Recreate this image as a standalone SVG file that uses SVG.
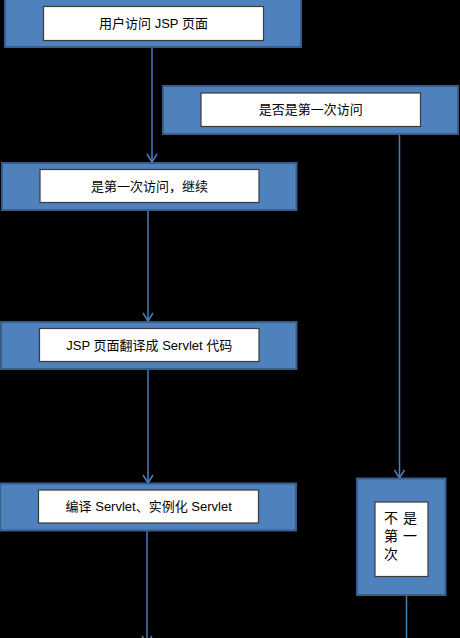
<svg xmlns="http://www.w3.org/2000/svg" width="460" height="638" viewBox="0 0 460 638">
<style>
.outer{fill:#4f81bd;stroke:#385d8a;stroke-width:2}
.inner{fill:#ffffff;stroke:#3a3a3a;stroke-width:1.2}
.t{font-family:"Liberation Sans","Noto Sans CJK SC",sans-serif;font-size:13px;fill:#000;text-anchor:middle;dominant-baseline:central}
.tv{font-family:"Liberation Sans","Noto Sans CJK SC",sans-serif;font-size:14px;fill:#000;letter-spacing:5px}
.c{fill:none;stroke:#4a7ebb;stroke-width:1.5}
</style>
<defs>
<marker id="arr" markerUnits="userSpaceOnUse" markerWidth="14" markerHeight="14" viewBox="-10 -7 12 14" refX="0" refY="0" orient="auto">
<polyline points="-8,-5 0,0 -8,5" fill="none" stroke="#4a7ebb" stroke-width="1.5"/>
</marker>
</defs>
<rect x="0" y="0" width="460" height="638" fill="#000"/>
<g id="connectors">
<line class="c" x1="152" y1="47" x2="152" y2="162" marker-end="url(#arr)"/>
<line class="c" x1="148" y1="210" x2="148" y2="321" marker-end="url(#arr)"/>
<line class="c" x1="148" y1="369" x2="148" y2="483" marker-end="url(#arr)"/>
<line class="c" x1="147" y1="531" x2="147" y2="644" marker-end="url(#arr)"/>
<line class="c" x1="399.5" y1="134" x2="399.5" y2="478" marker-end="url(#arr)"/>
<line class="c" x1="406.5" y1="595" x2="406.5" y2="640"/>
</g>
<g id="n1">
<rect class="outer" x="5" y="-2" width="296" height="49"/>
<rect class="inner" x="43.5" y="6.5" width="220" height="34"/>
<text class="t" x="153.5" y="23.5">用户访问 JSP 页面</text>
</g>
<g id="n2">
<rect class="outer" x="163" y="86" width="295" height="48"/>
<rect class="inner" x="201" y="93" width="219.5" height="33.5"/>
<text class="t" x="310.7" y="109.7">是否是第一次访问</text>
</g>
<g id="n3">
<rect class="outer" x="2" y="163" width="294.5" height="47"/>
<rect class="inner" x="40" y="169.5" width="219" height="33"/>
<text class="t" x="149.5" y="186">是第一次访问，继续</text>
</g>
<g id="n4">
<rect class="outer" x="1" y="322" width="295.5" height="47"/>
<rect class="inner" x="39.5" y="328.5" width="219.5" height="33"/>
<text class="t" x="149.3" y="345">JSP 页面翻译成 Servlet 代码</text>
</g>
<g id="n5">
<rect class="outer" x="0" y="483.5" width="296" height="47"/>
<rect class="inner" x="38.5" y="490" width="220" height="33"/>
<text class="t" x="148.7" y="506.7">编译 Servlet、实例化 Servlet</text>
</g>
<g id="n6">
<rect class="outer" x="357" y="478.5" width="88.5" height="116.5"/>
<rect class="inner" x="375" y="502" width="53" height="74.5"/>
<text class="tv" x="384" y="523">不是</text>
<text class="tv" x="384" y="541">第一</text>
<text class="tv" x="384" y="559">次</text>
</g>
</svg>
